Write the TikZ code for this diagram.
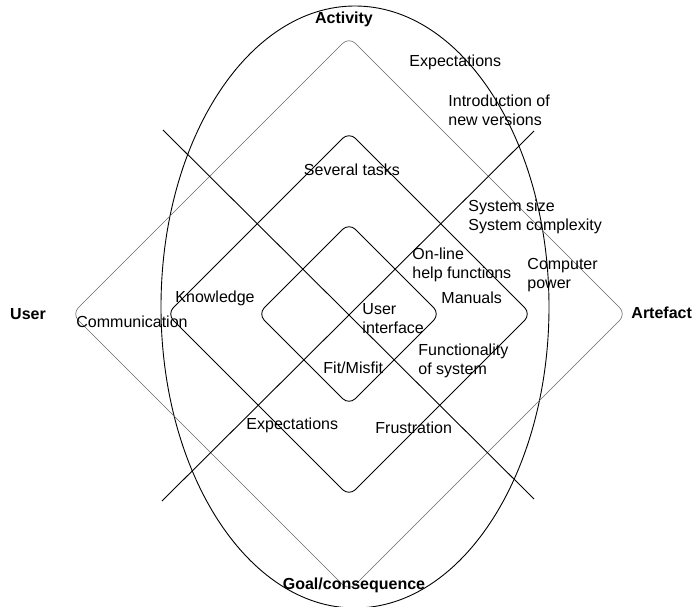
\documentclass[tikz,border=0pt]{standalone}
\usepackage{fontspec}
\setmainfont{Liberation Sans}

\begin{document}
\begin{tikzpicture}[x=1pt, y=1pt, line width=0.9pt,
    lbl/.style={inner sep=0pt, anchor=west, align=left, font=\fontsize{16}{19}\selectfont},
    pole/.style={inner sep=0pt, font=\fontsize{16}{19}\selectfont\bfseries},
    ring/.style={rounded corners=9pt}]
    \useasboundingbox (-349,-293) rectangle (344,314);

    % Ellipse
    \draw (6,7) ellipse [x radius=194, y radius=301];

    % Rounded diamonds
    \draw[ring, black!60, line width=0.6pt] (138.5,138.5) -- (277,0) -- (0,-277) -- (-277,0) -- (0,277) -- cycle;
    \draw[ring] (91,91) -- (182,0) -- (0,-182) -- (-182,0) -- (0,182) -- cycle;
    \draw[ring] (45.5,45.5) -- (91,0) -- (0,-91) -- (-91,0) -- (0,91) -- cycle;

    % Diagonals
    \draw (-186,184) -- (185,-185);
    \draw (185,183) -- (-187,-187);

    % Poles
    \node[pole] (act) at (-5,295) {Activity};
    \node[pole] (usr) at (-321,0) {User};
    \node[pole, anchor=west] (art) at (282,1) {Artefact};
    \node[pole] (goal) at (5,-271) {Goal/consequence};

    % Labels
    \node[lbl] (expTop) at (60,252) {Expectations};
    \node[lbl] (intro) at (99,203.5) {Introduction of\\new versions};
    \node[lbl, anchor=center] (tasks) at (3,144) {Several tasks};
    \node[lbl] (sysSize) at (119,97) {System size\\System complexity};
    \node[lbl] (online) at (63,49) {On-line\\help functions};
    \node[lbl] (power) at (178,38.5) {Computer\\power};
    \node[lbl] (know) at (-174,16) {Knowledge};
    \node[lbl] (manuals) at (92,16) {Manuals};
    \node[lbl] (ui) at (13,-5) {User\\interface};
    \node[lbl] (comm) at (-273,-8) {Communication};
    \node[lbl] (func) at (69,-47) {Functionality\\of system};
    \node[lbl] (fit) at (-26,-54) {Fit/Misfit};
    \node[lbl] (expBot) at (-103,-111) {Expectations};
    \node[lbl] (frust) at (26,-114) {Frustration};
\end{tikzpicture}
\end{document}
